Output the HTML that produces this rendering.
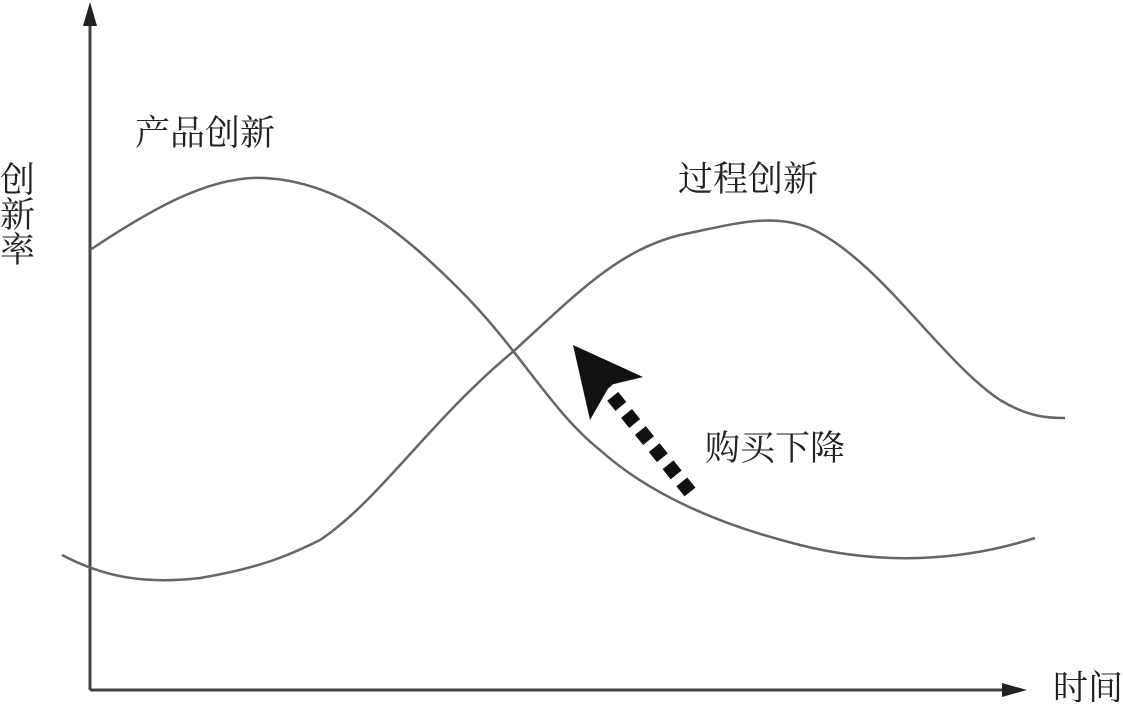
<!DOCTYPE html>
<html><head><meta charset="utf-8"><style>
html,body{margin:0;padding:0;background:#fff;}
svg text{font-family:"Liberation Serif","Noto Serif CJK SC",serif;font-size:35px;fill:#222;}
</style></head><body>
<svg width="1123" height="702" viewBox="0 0 1123 702" xmlns="http://www.w3.org/2000/svg">
<line x1="90" y1="690" x2="90" y2="22" stroke="#444" stroke-width="3"/>
<polygon points="90,2 83,26 97,26" fill="#222"/>
<line x1="90" y1="690" x2="1005" y2="690" stroke="#444" stroke-width="3"/>
<polygon points="1027,690 1002,683 1002,697" fill="#222"/>
<path d="M90,250 C150,210 210,175 265,178 C340,182 400,230 460,290 C520,350 550,410 600,450 C650,495 720,525 800,545 C880,565 960,562 1035,538" fill="none" stroke="#666" stroke-width="2.5"/>
<path d="M62,555 C100,575 140,585 200,578 C260,568 290,555 320,540 C380,500 430,420 515,350 C580,290 620,250 680,235 C730,225 770,212 810,228 C880,260 940,360 1000,400 C1030,418 1050,418 1065,418" fill="none" stroke="#666" stroke-width="2.5"/>
<line x1="690" y1="492" x2="606" y2="388" stroke="#111" stroke-width="14" stroke-dasharray="13,9"/>
<polygon points="573,345 643,377 610,385 590,420" fill="#111"/>
<text x="135" y="145">产品创新</text>
<text x="678" y="191">过程创新</text>
<text x="705" y="460">购买下降</text>
<text x="1053" y="700">时间</text>
<text x="0" y="192">创</text>
<text x="0" y="227">新</text>
<text x="0" y="262">率</text>
</svg>
</body></html>
